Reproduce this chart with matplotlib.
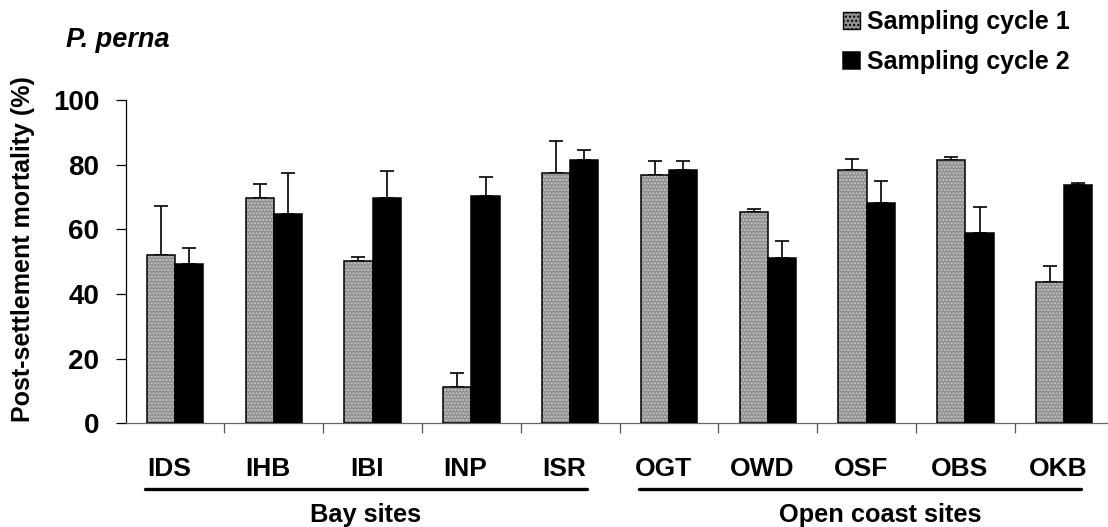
import matplotlib
matplotlib.use("Agg")
import matplotlib.pyplot as plt
import matplotlib.transforms as mtransforms
import numpy as np

plt.rcParams['font.family'] = ['Liberation Sans', 'DejaVu Sans']
plt.rcParams['font.weight'] = 'bold'

# ---- data ----
sites = ["IDS", "IHB", "IBI", "INP", "ISR", "OGT", "OWD", "OSF", "OBS", "OKB"]
cycle1 = [52.0, 69.6, 50.3, 11.1, 77.4, 76.9, 65.3, 78.5, 81.3, 43.6]
cycle1_err = [15.3, 4.4, 1.1, 4.4, 9.9, 4.3, 0.9, 3.3, 1.1, 5.1]
cycle2 = [49.3, 64.7, 69.7, 70.2, 81.5, 78.5, 51.0, 68.2, 58.8, 73.7]
cycle2_err = [4.9, 12.6, 8.2, 6.0, 3.0, 2.7, 5.5, 6.8, 8.1, 0.5]
series_labels = ["Sampling cycle 1", "Sampling cycle 2"]
groups = [("Bay sites", 0, 4), ("Open coast sites", 5, 9)]
y_ticks = [0, 20, 40, 60, 80, 100]
y_label = "Post-settlement mortality (%)"
title = "P. perna"

W, H = 1108, 527
fig = plt.figure(figsize=(W / 100, H / 100), dpi=100)
ax = fig.add_axes([125.6 / W, 1 - 423.3 / H, 988 / W, 323.3 / H])

x = np.arange(len(sites))
bw = 0.286

# grey stippled bars (fill with dotted hatch, then outline)
ax.bar(x - bw / 2, cycle1, bw, color='#909090', edgecolor='#c8c8c8',
       hatch='.....', linewidth=0, zorder=2)
b1 = ax.bar(x - bw / 2, cycle1, bw, fill=False, edgecolor='black',
            linewidth=1.1, zorder=3)
b2 = ax.bar(x + bw / 2, cycle2, bw, color='black', edgecolor='black',
            linewidth=1.1, zorder=3)

ax.errorbar(x - bw / 2, cycle1, yerr=[np.zeros(len(x)), cycle1_err],
            fmt='none', ecolor='black', elinewidth=1.2, capsize=5,
            capthick=1.2, zorder=1)
ax.errorbar(x + bw / 2, cycle2, yerr=[np.zeros(len(x)), cycle2_err],
            fmt='none', ecolor='black', elinewidth=1.2, capsize=5,
            capthick=1.2, zorder=1)

ax.set_xlim(-0.5, len(sites) - 0.5)
ax.set_ylim(0, 100)
ax.set_yticks(y_ticks)
ax.set_yticklabels([str(v) for v in y_ticks], fontsize=20, fontweight='bold')
ax.tick_params(axis='y', direction='out', length=7, width=0.9, pad=12)

ax.set_xticks(np.arange(len(sites) - 1) + 0.5)
ax.set_xticklabels([])
ax.tick_params(axis='x', direction='out', length=7, width=0.9, colors='#555555')

for s in ['top', 'right']:
    ax.spines[s].set_visible(False)
ax.spines['left'].set_linewidth(0.9)
ax.spines['bottom'].set_linewidth(0.9)
ax.spines['bottom'].set_color('#666666')

trans = mtransforms.blended_transform_factory(ax.transData, fig.transFigure)
for i, s in enumerate(sites):
    ax.text(i - 0.06, 1 - 475.7 / H, s, transform=trans, ha='center',
            va='baseline', fontsize=19, fontweight='bold')

group_label_x = [1.93, 7.14]
for (name, a, b), gx in zip(groups, group_label_x):
    ax.plot([a - 0.30, b + 0.17], [1 - 489 / H, 1 - 489 / H], transform=trans,
            color='black', lw=2.4, solid_capstyle='round', clip_on=False)
    ax.text(gx, 1 - 522 / H, name, transform=trans, ha='center',
            va='baseline', fontsize=18.3, fontweight='bold')

fig.text(23.3 / W, 1 - 249 / H, y_label, rotation=90, ha='center',
         va='center', fontsize=18, fontweight='bold')
fig.text(66 / W, 1 - 46.7 / H, title, ha='left', va='baseline',
         fontsize=19.5, fontweight='bold', fontstyle='italic')

leg = fig.legend([b1, b2], series_labels, loc='upper left',
                 bbox_to_anchor=(843 / W, 1 - 10 / H), frameon=False,
                 prop={'size': 18, 'weight': 'bold'}, handlelength=0.68,
                 handleheight=0.68, handletextpad=0.28, labelspacing=0.66,
                 borderpad=0, borderaxespad=0)
# give the legend's first swatch the grey stipple look
h0 = leg.legend_handles[0]
h0.set_facecolor('#909090')
h0.set_fill(True)
h0.set_hatch('....')
h0.set_edgecolor('black')
h0.set_linewidth(1.0)

fig.savefig("out.png", dpi=100)
